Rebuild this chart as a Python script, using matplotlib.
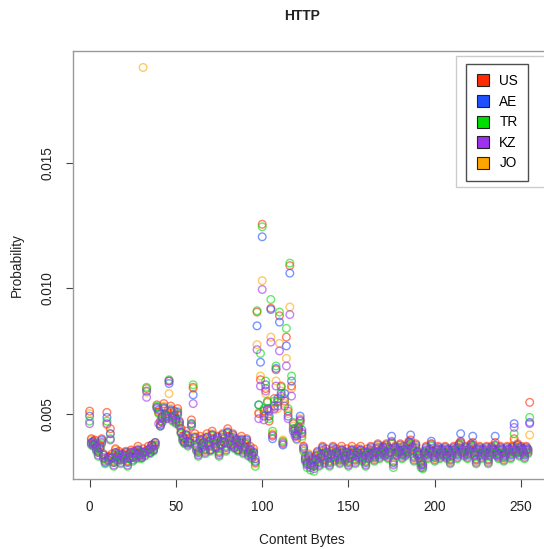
import matplotlib
matplotlib.use("Agg")
import matplotlib.pyplot as plt
import numpy as np
from matplotlib.lines import Line2D
from matplotlib.patches import Rectangle

plt.rcParams['font.family'] = ['Liberation Sans', 'DejaVu Sans']

# byte values 0..255, probabilities in units of 1e-3
content_bytes = list(range(256))

us = [
    5.1, 4.0, 3.85, 3.95, 3.7, 3.5, 3.75, 4.0, 3.4, 3.2, 5.05, 3.3, 4.4, 3.4, 3.1, 3.6,
    3.3, 3.5, 3.2, 3.4, 3.35, 3.5, 3.1, 3.4, 3.55, 3.3, 3.5, 3.4, 3.7, 3.5, 3.35, 3.6,
    3.5, 6.0, 3.7, 3.6, 3.75, 3.7, 3.85, 5.35, 5.05, 4.7, 4.9, 5.4, 5.0, 5.1, 6.3, 5.3,
    4.9, 5.1, 4.8, 5.2, 4.7, 4.4, 4.1, 4.0, 4.3, 3.9, 4.0, 4.75, 6.05, 4.2, 3.7, 3.5,
    4.1, 3.8, 4.0, 3.6, 4.2, 3.9, 3.7, 4.3, 4.0, 3.8, 4.1, 3.5, 3.9, 4.2, 4.0, 3.7,
    4.4, 4.1, 3.9, 4.2, 3.8, 4.0, 3.7, 3.9, 4.1, 3.6, 3.8, 4.0, 3.5, 3.7, 3.4, 3.6,
    3.05, 9.05, 5.0, 6.35, 12.55, 5.1, 6.0, 5.45, 4.7, 9.2, 4.15, 5.6, 6.75, 5.5, 8.9, 6.1,
    3.85, 5.5, 8.05, 5.1, 10.9, 6.1, 4.6, 4.4, 4.1, 4.45, 4.7, 4.2, 3.7, 3.3, 3.05, 3.35,
    3.0, 3.2, 2.95, 3.3, 3.5, 3.1, 3.4, 3.7, 3.2, 3.6, 3.4, 3.1, 3.5, 3.7, 3.3, 3.6,
    3.4, 3.2, 3.7, 3.5, 3.3, 3.6, 3.1, 3.4, 3.7, 3.5, 3.2, 3.6, 3.4, 3.7, 3.3, 3.5,
    3.1, 3.6, 3.4, 3.7, 3.5, 3.3, 3.6, 3.8, 3.4, 3.6, 3.7, 3.5, 3.8, 3.4, 3.6, 3.9,
    3.1, 3.7, 3.5, 3.6, 3.8, 3.4, 3.7, 3.5, 3.6, 3.9, 3.95, 3.7, 3.3, 3.8, 3.5, 3.4,
    3.1, 3.0, 3.5, 3.7, 3.4, 3.6, 3.8, 3.5, 3.3, 3.6, 3.7, 3.4, 3.6, 3.5, 3.7, 3.4,
    3.6, 3.2, 3.5, 3.7, 3.6, 3.4, 3.8, 3.9, 3.6, 3.5, 3.7, 3.4, 3.6, 3.8, 3.85, 3.5,
    3.2, 3.6, 3.7, 3.4, 3.6, 3.5, 3.7, 3.2, 3.5, 3.7, 3.6, 3.85, 3.5, 3.4, 3.7, 3.6,
    3.3, 3.5, 3.7, 3.6, 3.4, 3.7, 4.0, 3.6, 3.8, 3.5, 3.7, 3.6, 3.4, 3.7, 3.6, 5.45,
]

ae = [
    4.9, 3.85, 3.9, 3.75, 3.65, 3.45, 3.6, 3.95, 3.35, 3.05, 4.85, 3.25, 4.2, 3.25, 3.05, 3.45,
    3.25, 3.35, 3.15, 3.25, 3.3, 3.45, 3.05, 3.2, 3.45, 3.25, 3.4, 3.35, 3.55, 3.45, 3.25, 3.45,
    3.45, 5.9, 3.55, 3.45, 3.75, 3.55, 3.85, 5.25, 5.15, 4.55, 4.85, 5.25, 4.95, 4.9, 6.2, 5.15,
    4.85, 4.9, 4.75, 5.05, 4.65, 4.25, 4.05, 3.85, 4.15, 3.85, 3.85, 4.6, 5.75, 4.05, 3.65, 3.45,
    3.95, 3.75, 3.85, 3.55, 4.05, 3.85, 3.55, 4.15, 3.95, 3.65, 4.05, 3.45, 3.75, 4.15, 3.85, 3.65,
    4.25, 4.05, 3.75, 4.15, 3.65, 3.95, 3.55, 3.85, 3.95, 3.55, 3.65, 3.95, 3.45, 3.55, 3.35, 3.45,
    3.1, 8.5, 5.35, 7.05, 12.05, 4.9, 6.15, 5.2, 4.9, 9.15, 4.0, 5.3, 6.8, 5.6, 8.65, 5.8,
    3.75, 5.8, 7.7, 4.9, 10.6, 6.3, 4.4, 4.2, 4.0, 4.3, 4.9, 4.35, 3.6, 3.2, 3.0, 3.3,
    2.95, 3.15, 2.9, 3.15, 3.45, 3.05, 3.25, 3.65, 3.15, 3.45, 3.35, 3.05, 3.35, 3.65, 3.25, 3.45,
    3.35, 3.15, 3.55, 3.45, 3.25, 3.45, 3.05, 3.35, 3.55, 3.45, 3.15, 3.45, 3.35, 3.55, 3.25, 3.45,
    3.05, 3.45, 3.35, 3.65, 3.45, 3.25, 3.45, 3.75, 3.35, 3.45, 3.65, 3.45, 3.75, 3.35, 3.45, 4.1,
    3.05, 3.65, 3.45, 3.55, 3.75, 3.35, 3.55, 3.45, 3.55, 3.85, 4.15, 3.65, 3.25, 3.75, 3.45, 3.35,
    3.05, 2.95, 3.45, 3.65, 3.35, 3.55, 3.9, 3.45, 3.25, 3.55, 3.65, 3.35, 3.55, 3.45, 3.65, 3.35,
    3.55, 3.15, 3.45, 3.65, 3.55, 3.35, 3.75, 4.2, 3.55, 3.45, 3.65, 3.35, 3.55, 3.75, 4.1, 3.45,
    3.15, 3.55, 3.65, 3.35, 3.55, 3.45, 3.65, 3.15, 3.45, 3.65, 3.55, 4.1, 3.45, 3.35, 3.65, 3.55,
    3.25, 3.45, 3.65, 3.55, 3.35, 3.65, 4.6, 3.55, 3.75, 3.45, 3.65, 3.55, 3.35, 3.65, 3.55, 4.65,
]

tr = [
    4.7, 3.75, 3.7, 3.8, 3.5, 3.3, 3.6, 3.8, 3.2, 3.0, 4.7, 3.1, 4.0, 3.2, 2.9, 3.4,
    3.1, 3.3, 3.0, 3.2, 3.15, 3.3, 2.9, 3.2, 3.4, 3.1, 3.35, 3.2, 3.5, 3.3, 3.2, 3.4,
    3.3, 6.05, 3.5, 3.4, 3.6, 3.5, 3.7, 5.3, 5.0, 4.5, 4.7, 5.2, 4.8, 4.9, 6.35, 5.1,
    4.7, 4.9, 4.6, 5.0, 4.5, 4.2, 3.9, 3.8, 4.1, 3.7, 3.8, 4.55, 6.15, 4.0, 3.5, 3.3,
    3.9, 3.6, 3.8, 3.4, 4.0, 3.7, 3.5, 4.1, 3.8, 3.6, 3.9, 3.3, 3.7, 4.0, 3.8, 3.5,
    4.2, 3.9, 3.7, 4.0, 3.6, 3.8, 3.5, 3.7, 3.9, 3.4, 3.6, 3.8, 3.3, 3.5, 3.2, 3.4,
    2.9, 9.1, 5.35, 7.4, 12.45, 5.2, 6.3, 5.5, 4.8, 9.55, 4.3, 5.5, 6.9, 5.45, 9.05, 6.05,
    3.9, 5.6, 8.4, 5.2, 11.0, 6.5, 4.65, 4.3, 4.2, 4.5, 4.6, 4.1, 3.5, 3.1, 2.85, 3.2,
    2.75, 3.0, 2.7, 3.1, 3.3, 2.9, 3.2, 3.5, 3.0, 3.4, 3.2, 2.9, 3.3, 3.5, 3.1, 3.4,
    3.2, 3.0, 3.5, 3.3, 3.1, 3.4, 2.9, 3.2, 3.5, 3.3, 3.0, 3.4, 3.2, 3.5, 3.1, 3.3,
    2.9, 3.4, 3.2, 3.5, 3.3, 3.1, 3.4, 3.6, 3.2, 3.4, 3.5, 3.3, 3.6, 3.2, 3.4, 3.8,
    2.85, 3.5, 3.3, 3.4, 3.6, 3.2, 3.5, 3.3, 3.4, 3.7, 3.8, 3.5, 3.1, 3.6, 3.3, 3.2,
    2.85, 2.8, 3.3, 3.5, 3.2, 3.4, 3.7, 3.3, 3.1, 3.4, 3.5, 3.2, 3.4, 3.3, 3.5, 3.2,
    3.4, 3.0, 3.3, 3.5, 3.4, 3.2, 3.6, 3.8, 3.4, 3.3, 3.5, 3.2, 3.4, 3.6, 3.7, 3.3,
    3.0, 3.4, 3.5, 3.2, 3.4, 3.3, 3.5, 3.0, 3.3, 3.5, 3.4, 3.7, 3.3, 3.2, 3.5, 3.4,
    3.1, 3.3, 3.5, 3.4, 3.2, 3.5, 4.2, 3.4, 3.6, 3.3, 3.5, 3.4, 3.2, 3.5, 3.4, 4.85,
]

kz = [
    4.6, 3.8, 3.75, 3.8, 3.55, 3.35, 3.65, 3.85, 3.25, 3.1, 4.6, 3.15, 3.95, 3.25, 2.95, 3.45,
    3.15, 3.4, 3.05, 3.3, 3.2, 3.35, 2.95, 3.25, 3.45, 3.15, 3.45, 3.25, 3.55, 3.35, 3.25, 3.45,
    3.35, 5.65, 3.55, 3.45, 3.65, 3.55, 3.75, 5.2, 4.6, 4.5, 4.65, 5.2, 4.85, 4.8, 6.3, 5.1,
    4.75, 4.95, 4.65, 4.95, 4.55, 4.25, 3.95, 3.85, 4.15, 3.75, 3.85, 4.5, 5.4, 4.05, 3.55, 3.35,
    3.95, 3.65, 3.85, 3.45, 4.05, 3.75, 3.55, 4.15, 3.85, 3.65, 3.95, 3.35, 3.75, 4.05, 3.85, 3.55,
    4.25, 3.95, 3.75, 4.05, 3.65, 3.85, 3.55, 3.75, 3.95, 3.45, 3.65, 3.85, 3.35, 3.55, 3.25, 3.45,
    3.2, 7.55, 4.8, 6.1, 9.95, 4.75, 5.9, 5.15, 5.1, 7.85, 4.1, 5.2, 6.1, 5.3, 7.5, 5.7,
    3.8, 5.3, 6.9, 4.8, 8.95, 5.7, 4.3, 4.1, 4.15, 4.4, 4.75, 4.25, 3.65, 3.15, 2.95, 3.25,
    2.85, 3.05, 2.8, 3.15, 3.35, 2.95, 3.25, 3.55, 3.05, 3.45, 3.25, 2.95, 3.35, 3.55, 3.15, 3.45,
    3.25, 3.05, 3.55, 3.35, 3.15, 3.45, 2.95, 3.25, 3.55, 3.35, 3.05, 3.45, 3.25, 3.55, 3.15, 3.35,
    2.95, 3.45, 3.25, 3.55, 3.35, 3.15, 3.45, 3.65, 3.25, 3.45, 3.55, 3.35, 3.65, 3.25, 3.45, 3.85,
    2.95, 3.55, 3.35, 3.45, 3.65, 3.25, 3.55, 3.35, 3.45, 3.75, 3.85, 3.55, 3.15, 3.65, 3.35, 3.25,
    2.95, 2.85, 3.35, 3.55, 3.25, 3.45, 3.75, 3.35, 3.15, 3.45, 3.55, 3.25, 3.45, 3.35, 3.55, 3.25,
    3.45, 3.05, 3.35, 3.55, 3.45, 3.25, 3.65, 3.85, 3.45, 3.35, 3.55, 3.25, 3.45, 3.65, 3.75, 3.35,
    3.05, 3.45, 3.55, 3.25, 3.45, 3.35, 3.55, 3.05, 3.35, 3.55, 3.45, 3.75, 3.35, 3.25, 3.55, 3.45,
    3.15, 3.35, 3.55, 3.45, 3.25, 3.55, 4.45, 3.45, 3.65, 3.35, 3.55, 3.45, 3.25, 3.55, 3.45, 4.6,
]

jo = [
    5.0, 3.95, 3.8, 3.9, 3.6, 3.45, 3.7, 3.9, 3.35, 3.15, 4.55, 3.25, 4.2, 3.35, 3.05, 3.55,
    3.25, 3.45, 3.15, 3.35, 3.3, 3.45, 3.1, 3.3, 3.5, 3.25, 3.5, 3.3, 3.6, 3.4, 3.3, 18.8,
    3.45, 5.85, 3.6, 3.55, 3.7, 3.6, 3.8, 5.25, 5.1, 4.6, 4.8, 5.3, 4.9, 5.0, 5.8, 5.2,
    4.8, 5.0, 4.7, 5.1, 4.6, 4.3, 4.0, 3.9, 4.2, 3.8, 3.9, 4.6, 6.0, 4.1, 3.6, 3.4,
    4.0, 3.7, 3.9, 3.5, 4.1, 3.8, 3.6, 4.2, 3.9, 3.7, 4.0, 3.4, 3.8, 4.1, 3.9, 3.6,
    4.3, 4.0, 3.8, 4.1, 3.7, 3.9, 3.6, 3.8, 4.0, 3.5, 3.7, 3.9, 3.4, 3.6, 3.3, 3.5,
    3.0, 7.75, 5.05, 6.5, 10.3, 5.0, 5.8, 4.9, 5.2, 8.05, 4.2, 5.15, 6.3, 5.2, 7.8, 5.9,
    3.95, 5.4, 7.2, 5.0, 9.25, 6.0, 4.5, 4.35, 3.95, 4.35, 4.8, 4.0, 3.55, 3.25, 3.1, 3.4,
    2.95, 3.1, 2.9, 3.2, 3.4, 3.0, 3.3, 3.6, 3.1, 3.5, 3.3, 3.0, 3.4, 3.6, 3.2, 3.5,
    3.3, 3.1, 3.6, 3.4, 3.2, 3.5, 3.0, 3.3, 3.6, 3.4, 3.1, 3.5, 3.3, 3.6, 3.2, 3.4,
    3.0, 3.5, 3.3, 3.6, 3.4, 3.2, 3.5, 3.7, 3.3, 3.5, 3.6, 3.4, 3.7, 3.3, 3.5, 3.8,
    3.0, 3.6, 3.4, 3.5, 3.7, 3.3, 3.6, 3.4, 3.5, 3.8, 3.8, 3.6, 3.2, 3.7, 3.4, 3.3,
    3.0, 2.9, 3.4, 3.6, 3.3, 3.5, 3.8, 3.4, 3.2, 3.5, 3.6, 3.3, 3.5, 3.4, 3.6, 3.3,
    3.5, 3.1, 3.4, 3.6, 3.5, 3.3, 3.7, 3.85, 3.5, 3.4, 3.6, 3.3, 3.5, 3.7, 3.75, 3.4,
    3.1, 3.5, 3.6, 3.3, 3.5, 3.4, 3.6, 3.1, 3.4, 3.6, 3.5, 3.75, 3.4, 3.3, 3.6, 3.5,
    3.2, 3.4, 3.6, 3.5, 3.3, 3.6, 3.9, 3.5, 3.7, 3.4, 3.6, 3.5, 3.3, 3.6, 3.5, 4.15,
]

countries = ["US", "AE", "TR", "KZ", "JO"]
series = [us, ae, tr, kz, jo]
colors = ["#FF2A00", "#1E50FF", "#00DD00", "#A030F0", "#FFA500"]

# drawing order: orange underneath, purple on top
draw_order = [4, 0, 1, 2, 3]

W, H = 544, 549
fig = plt.figure(figsize=(W / 100, H / 100), dpi=100)
ax = fig.add_axes([72.9 / W, 1 - 478.5 / H, 474.4 / W, 427.5 / H])

x = np.array(content_bytes)
for k in draw_order:
    ax.scatter(x, np.array(series[k]) * 1e-3, s=30, facecolors="none",
               edgecolors=colors[k], linewidths=1.0, alpha=0.6,
               label=countries[k])

ax.set_xlim(-9.7, 265.2)
ax.set_ylim(2.414e-3, 19.457e-3)

ax.set_xticks([0, 50, 100, 150, 200, 250])
ax.set_yticks([0.005, 0.010, 0.015])
ax.set_yticklabels(["0.005", "0.010", "0.015"], rotation=90, va="center")
ax.tick_params(axis="both", direction="out", length=5.4, width=0.8,
               color="#444444", labelsize=9.8, labelcolor="#222222")
ax.tick_params(axis="x", pad=10)
ax.tick_params(axis="y", pad=8)
for sp in ax.spines.values():
    sp.set_color("#999999")
    sp.set_linewidth(1.0)

fig.text(302 / W, 1 - 540 / H, "Content Bytes", ha="center", va="center",
         fontsize=9.8, color="#222222")
fig.text(17 / W, 1 - 265 / H, "Probability", ha="center", va="center",
         rotation=90, fontsize=9.8, color="#222222")
fig.text(302 / W, 1 - 16 / H, "HTTP", ha="center", va="center",
         fontsize=10, fontweight="bold", color="#222222")

# light frame behind the legend
fig.add_artist(Rectangle((456 / W, 1 - 187 / H), 0.2, 131 / H,
                         transform=fig.transFigure, facecolor="white",
                         edgecolor="#cccccc", linewidth=1.0))

handles = [Line2D([], [], marker="s", linestyle="none", markersize=8,
                  markerfacecolor=c, markeredgecolor="#222222",
                  markeredgewidth=0.8) for c in colors]
leg = fig.legend(handles, countries, loc="upper left",
                 bbox_to_anchor=(466 / W, 1 - 64 / H),
                 bbox_transform=fig.transFigure, fontsize=9.8,
                 frameon=True, fancybox=False, borderpad=0.75,
                 labelspacing=0.48, handlelength=1.0, handletextpad=0.7,
                 borderaxespad=0)
leg.get_frame().set_edgecolor("#222222")
leg.get_frame().set_linewidth(1.0)

fig.savefig("out.png", dpi=100)
